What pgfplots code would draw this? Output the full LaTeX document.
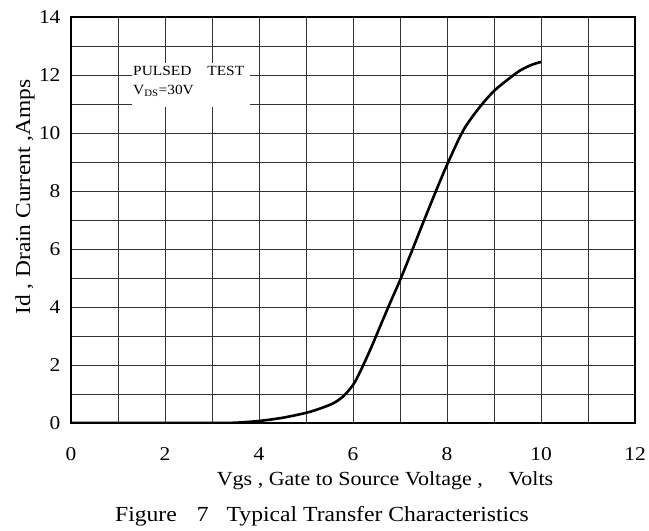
\documentclass[border=0pt]{standalone}
\usepackage{pgfplots}
\pgfplotsset{compat=1.18}
\usepackage{fontspec}
\setmainfont[FakeStretch=1.1]{Liberation Serif}

\begin{document}
\begin{tikzpicture}
\begin{axis}[
    name=ax,
    at={(0,0)}, anchor=south west,
    scale only axis,
    width=564pt, height=406pt,
    xmin=0, xmax=12, ymin=0, ymax=14,
    xtick={0,2,...,12}, minor xtick={1,3,...,11},
    ytick={0,2,...,14}, minor ytick={1,3,...,13},
    grid=both,
    major grid style={black!80, line width=0.8pt},
    minor grid style={black!80, line width=0.8pt},
    axis line style={black, line width=1.2pt},
    major tick length=0pt, minor tick length=0pt,
    /pgf/number format/assume math mode=true,
    tick label style={font=\fontsize{19.5}{22}\selectfont},
    xticklabel style={yshift=-21pt},
    yticklabel style={xshift=-7pt},
    xlabel={Vgs , Gate to Source Voltage ,\quad\ Volts},
    xlabel style={font=\fontsize{20}{22}\selectfont, at={(rel axis cs:0.5,0)},
                  anchor=base, xshift=32pt, yshift=-62pt},
    ylabel={Id , Drain Current ,Amps},
    ylabel style={font=\fontsize{21.3}{24}\selectfont, at={(rel axis cs:0,0.5)},
                  anchor=center, xshift=23pt, yshift=46pt},
]
\fill[white] (axis cs:1.3,10.88) rectangle (axis cs:3.81,12.41);
\node[anchor=north west, align=left, inner sep=0pt, font=\fontsize{14}{19}\selectfont]
  at (axis cs:1.32,12.3) {PULSED\hspace{16pt}TEST\\V\textsubscript{DS}=30V};
\addplot[black, line width=2.6pt, smooth, tension=0.5] coordinates {
(0,0) (1,0) (2,0) (3,0) (3.5,0.01) (4,0.07) (4.5,0.18) (5,0.35)
(5.3,0.5) (5.58,0.68) (5.8,0.93) (6,1.31) (6.1,1.6) (6.22,2.0) (6.4,2.65)
(6.6,3.42) (6.8,4.18) (7,4.92) (7.25,5.92) (7.5,6.94) (7.75,7.94) (8,8.9)
(8.35,10.1) (8.7,10.9) (9,11.45) (9.3,11.85) (9.55,12.15) (9.8,12.35) (10,12.45)
};
\end{axis}
\node[font=\fontsize{21.5}{24}\selectfont, anchor=base] at ([xshift=251pt, yshift=-98pt]ax.south west)
  {Figure\hspace{20pt}7\hspace{18pt}Typical Transfer Characteristics};
\pgfresetboundingbox
\path (-71pt,-108pt) rectangle (578pt,423pt);
\end{tikzpicture}
\end{document}
